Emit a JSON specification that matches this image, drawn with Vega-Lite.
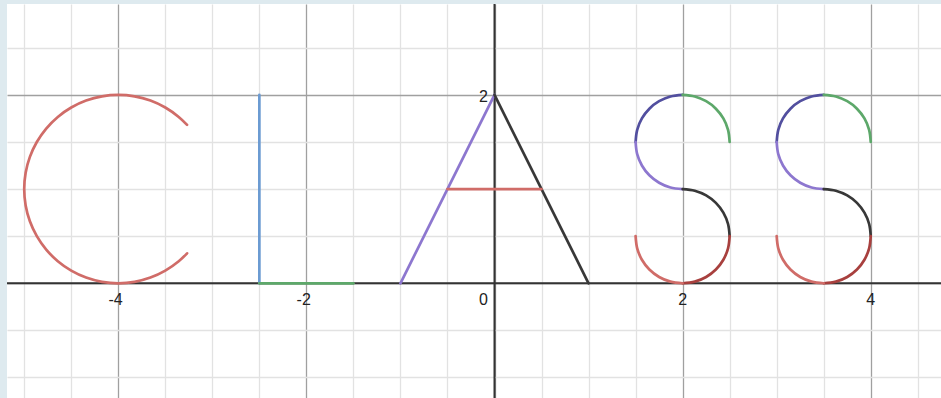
{
  "$schema": "https://vega.github.io/schema/vega-lite/v6.json",
  "width": 934,
  "height": 394,
  "autosize": {"type": "none"},
  "padding": {"left": 7, "top": 4, "right": 0, "bottom": 0},
  "background": "#deeaef",
  "config": {"view": {"fill": "white", "stroke": null}},
  "datasets": {
    "curves": [
      {"s":"C","c":"red","o":0,"x":-3.2686,"y":1.682},
      {"s":"C","c":"red","o":1,"x":-3.3572,"y":1.766},
      {"s":"C","c":"red","o":2,"x":-3.5,"y":1.866},
      {"s":"C","c":"red","o":3,"x":-3.658,"y":1.9397},
      {"s":"C","c":"red","o":4,"x":-3.8264,"y":1.9848},
      {"s":"C","c":"red","o":5,"x":-4,"y":2},
      {"s":"C","c":"red","o":6,"x":-4.1736,"y":1.9848},
      {"s":"C","c":"red","o":7,"x":-4.342,"y":1.9397},
      {"s":"C","c":"red","o":8,"x":-4.5,"y":1.866},
      {"s":"C","c":"red","o":9,"x":-4.6428,"y":1.766},
      {"s":"C","c":"red","o":10,"x":-4.766,"y":1.6428},
      {"s":"C","c":"red","o":11,"x":-4.866,"y":1.5},
      {"s":"C","c":"red","o":12,"x":-4.9397,"y":1.342},
      {"s":"C","c":"red","o":13,"x":-4.9848,"y":1.1736},
      {"s":"C","c":"red","o":14,"x":-5,"y":1},
      {"s":"C","c":"red","o":15,"x":-4.9848,"y":0.8264},
      {"s":"C","c":"red","o":16,"x":-4.9397,"y":0.658},
      {"s":"C","c":"red","o":17,"x":-4.866,"y":0.5},
      {"s":"C","c":"red","o":18,"x":-4.766,"y":0.3572},
      {"s":"C","c":"red","o":19,"x":-4.6428,"y":0.234},
      {"s":"C","c":"red","o":20,"x":-4.5,"y":0.134},
      {"s":"C","c":"red","o":21,"x":-4.342,"y":0.0603},
      {"s":"C","c":"red","o":22,"x":-4.1736,"y":0.0152},
      {"s":"C","c":"red","o":23,"x":-4,"y":0},
      {"s":"C","c":"red","o":24,"x":-3.8264,"y":0.0152},
      {"s":"C","c":"red","o":25,"x":-3.658,"y":0.0603},
      {"s":"C","c":"red","o":26,"x":-3.5,"y":0.134},
      {"s":"C","c":"red","o":27,"x":-3.3572,"y":0.234},
      {"s":"C","c":"red","o":28,"x":-3.2686,"y":0.318},
      {"s":"Lv","c":"blue","o":0,"x":-2.5,"y":0},
      {"s":"Lv","c":"blue","o":1,"x":-2.5,"y":2},
      {"s":"Lh","c":"green","o":0,"x":-2.5,"y":0},
      {"s":"Lh","c":"green","o":1,"x":-1.5,"y":0},
      {"s":"Aleft","c":"purple","o":0,"x":-1,"y":0},
      {"s":"Aleft","c":"purple","o":1,"x":0,"y":2},
      {"s":"Aright","c":"black","o":0,"x":0,"y":2},
      {"s":"Aright","c":"black","o":1,"x":1,"y":0},
      {"s":"Abar","c":"red","o":0,"x":-0.5,"y":1},
      {"s":"Abar","c":"red","o":1,"x":0.5,"y":1},

      {"s":"S1a","c":"navy","o":0,"x":2,"y":2},
      {"s":"S1a","c":"navy","o":1,"x":1.8706,"y":1.983},
      {"s":"S1a","c":"navy","o":2,"x":1.75,"y":1.933},
      {"s":"S1a","c":"navy","o":3,"x":1.6464,"y":1.8536},
      {"s":"S1a","c":"navy","o":4,"x":1.567,"y":1.75},
      {"s":"S1a","c":"navy","o":5,"x":1.517,"y":1.6294},
      {"s":"S1a","c":"navy","o":6,"x":1.5,"y":1.5},
      {"s":"S1b","c":"purple","o":0,"x":1.5,"y":1.5},
      {"s":"S1b","c":"purple","o":1,"x":1.517,"y":1.3706},
      {"s":"S1b","c":"purple","o":2,"x":1.567,"y":1.25},
      {"s":"S1b","c":"purple","o":3,"x":1.6464,"y":1.1464},
      {"s":"S1b","c":"purple","o":4,"x":1.75,"y":1.067},
      {"s":"S1b","c":"purple","o":5,"x":1.8706,"y":1.017},
      {"s":"S1b","c":"purple","o":6,"x":2,"y":1},
      {"s":"S1c","c":"green","o":0,"x":2,"y":2},
      {"s":"S1c","c":"green","o":1,"x":2.1294,"y":1.983},
      {"s":"S1c","c":"green","o":2,"x":2.25,"y":1.933},
      {"s":"S1c","c":"green","o":3,"x":2.3536,"y":1.8536},
      {"s":"S1c","c":"green","o":4,"x":2.433,"y":1.75},
      {"s":"S1c","c":"green","o":5,"x":2.483,"y":1.6294},
      {"s":"S1c","c":"green","o":6,"x":2.5,"y":1.5},
      {"s":"S1d","c":"black","o":0,"x":2,"y":1},
      {"s":"S1d","c":"black","o":1,"x":2.1294,"y":0.983},
      {"s":"S1d","c":"black","o":2,"x":2.25,"y":0.933},
      {"s":"S1d","c":"black","o":3,"x":2.3536,"y":0.8536},
      {"s":"S1d","c":"black","o":4,"x":2.433,"y":0.75},
      {"s":"S1d","c":"black","o":5,"x":2.483,"y":0.6294},
      {"s":"S1d","c":"black","o":6,"x":2.5,"y":0.5},
      {"s":"S1e","c":"maroon","o":0,"x":2.5,"y":0.5},
      {"s":"S1e","c":"maroon","o":1,"x":2.483,"y":0.3706},
      {"s":"S1e","c":"maroon","o":2,"x":2.433,"y":0.25},
      {"s":"S1e","c":"maroon","o":3,"x":2.3536,"y":0.1464},
      {"s":"S1e","c":"maroon","o":4,"x":2.25,"y":0.067},
      {"s":"S1e","c":"maroon","o":5,"x":2.1294,"y":0.017},
      {"s":"S1e","c":"maroon","o":6,"x":2,"y":0},
      {"s":"S1f","c":"red","o":0,"x":2,"y":0},
      {"s":"S1f","c":"red","o":1,"x":1.8706,"y":0.017},
      {"s":"S1f","c":"red","o":2,"x":1.75,"y":0.067},
      {"s":"S1f","c":"red","o":3,"x":1.6464,"y":0.1464},
      {"s":"S1f","c":"red","o":4,"x":1.567,"y":0.25},
      {"s":"S1f","c":"red","o":5,"x":1.517,"y":0.3706},
      {"s":"S1f","c":"red","o":6,"x":1.5,"y":0.5},

      {"s":"S2a","c":"navy","o":0,"x":3.5,"y":2},
      {"s":"S2a","c":"navy","o":1,"x":3.3706,"y":1.983},
      {"s":"S2a","c":"navy","o":2,"x":3.25,"y":1.933},
      {"s":"S2a","c":"navy","o":3,"x":3.1464,"y":1.8536},
      {"s":"S2a","c":"navy","o":4,"x":3.067,"y":1.75},
      {"s":"S2a","c":"navy","o":5,"x":3.017,"y":1.6294},
      {"s":"S2a","c":"navy","o":6,"x":3.0,"y":1.5},
      {"s":"S2b","c":"purple","o":0,"x":3.0,"y":1.5},
      {"s":"S2b","c":"purple","o":1,"x":3.017,"y":1.3706},
      {"s":"S2b","c":"purple","o":2,"x":3.067,"y":1.25},
      {"s":"S2b","c":"purple","o":3,"x":3.1464,"y":1.1464},
      {"s":"S2b","c":"purple","o":4,"x":3.25,"y":1.067},
      {"s":"S2b","c":"purple","o":5,"x":3.3706,"y":1.017},
      {"s":"S2b","c":"purple","o":6,"x":3.5,"y":1},
      {"s":"S2c","c":"green","o":0,"x":3.5,"y":2},
      {"s":"S2c","c":"green","o":1,"x":3.6294,"y":1.983},
      {"s":"S2c","c":"green","o":2,"x":3.75,"y":1.933},
      {"s":"S2c","c":"green","o":3,"x":3.8536,"y":1.8536},
      {"s":"S2c","c":"green","o":4,"x":3.933,"y":1.75},
      {"s":"S2c","c":"green","o":5,"x":3.983,"y":1.6294},
      {"s":"S2c","c":"green","o":6,"x":4.0,"y":1.5},
      {"s":"S2d","c":"black","o":0,"x":3.5,"y":1},
      {"s":"S2d","c":"black","o":1,"x":3.6294,"y":0.983},
      {"s":"S2d","c":"black","o":2,"x":3.75,"y":0.933},
      {"s":"S2d","c":"black","o":3,"x":3.8536,"y":0.8536},
      {"s":"S2d","c":"black","o":4,"x":3.933,"y":0.75},
      {"s":"S2d","c":"black","o":5,"x":3.983,"y":0.6294},
      {"s":"S2d","c":"black","o":6,"x":4.0,"y":0.5},
      {"s":"S2e","c":"maroon","o":0,"x":4.0,"y":0.5},
      {"s":"S2e","c":"maroon","o":1,"x":3.983,"y":0.3706},
      {"s":"S2e","c":"maroon","o":2,"x":3.933,"y":0.25},
      {"s":"S2e","c":"maroon","o":3,"x":3.8536,"y":0.1464},
      {"s":"S2e","c":"maroon","o":4,"x":3.75,"y":0.067},
      {"s":"S2e","c":"maroon","o":5,"x":3.6294,"y":0.017},
      {"s":"S2e","c":"maroon","o":6,"x":3.5,"y":0},
      {"s":"S2f","c":"red","o":0,"x":3.5,"y":0},
      {"s":"S2f","c":"red","o":1,"x":3.3706,"y":0.017},
      {"s":"S2f","c":"red","o":2,"x":3.25,"y":0.067},
      {"s":"S2f","c":"red","o":3,"x":3.1464,"y":0.1464},
      {"s":"S2f","c":"red","o":4,"x":3.067,"y":0.25},
      {"s":"S2f","c":"red","o":5,"x":3.017,"y":0.3706},
      {"s":"S2f","c":"red","o":6,"x":3.0,"y":0.5}
    ],
    "xlabels": [
      {"t": -4, "lab": "-4"},
      {"t": -2, "lab": "-2"},
      {"t": 2, "lab": "2"},
      {"t": 4, "lab": "4"}
    ],
    "origin": [{"v": 0}],
    "ylabels": [{"t": 2, "lab": "2"}]
  },
  "layer": [
    {
      "data": {"name": "origin"},
      "mark": {"type": "rule", "color": "#333333", "strokeWidth": 2},
      "encoding": {
        "x": {"field": "v", "type": "quantitative",
          "scale": {"domain": [-5.183, 4.747], "nice": false, "zero": false},
          "axis": {"values": [-5,-4.5,-4,-3.5,-3,-2.5,-2,-1.5,-1,-0.5,0,0.5,1,1.5,2,2.5,3,3.5,4,4.5],
            "grid": true, "labels": false, "ticks": false, "domain": false, "title": null,
            "gridColor": {"condition": {"test": "datum.value % 2 === 0", "value": "#a0a0a0"}, "value": "#e2e2e2"},
            "gridWidth": 1.3}
        }
      }
    },
    {
      "data": {"name": "origin"},
      "mark": {"type": "rule", "color": "#333333", "strokeWidth": 2},
      "encoding": {
        "y": {"field": "v", "type": "quantitative",
          "scale": {"domain": [-1.218, 2.965], "nice": false, "zero": false},
          "axis": {"values": [-1,-0.5,0,0.5,1,1.5,2,2.5],
            "grid": true, "labels": false, "ticks": false, "domain": false, "title": null,
            "gridColor": {"condition": {"test": "datum.value % 2 === 0", "value": "#a0a0a0"}, "value": "#e2e2e2"},
            "gridWidth": 1.3}
        }
      }
    },
    {
      "data": {"name": "curves"},
      "mark": {"type": "line", "strokeWidth": 2.7, "strokeCap": "round", "strokeJoin": "round", "interpolate": "catmull-rom"},
      "encoding": {
        "x": {"field": "x", "type": "quantitative"},
        "y": {"field": "y", "type": "quantitative"},
        "detail": {"field": "s", "type": "nominal"},
        "order": {"field": "o", "type": "quantitative"},
        "color": {"field": "c", "type": "nominal", "legend": null,
          "scale": {"domain": ["red","blue","green","purple","black","maroon","navy"],
                    "range": ["#d06c68","#6b9bd2","#5da86a","#8d77cf","#383838","#a8403e","#524f9f"]}}
      }
    },
    {
      "data": {"name": "xlabels"},
      "transform": [{"filter": "datum.t < 0"}],
      "mark": {"type": "text", "font": "Liberation Sans", "fontSize": 16, "color": "#222222", "align": "center", "baseline": "alphabetic", "dy": 22, "dx": -2.7},
      "encoding": {
        "x": {"field": "t", "type": "quantitative"},
        "y": {"datum": 0, "type": "quantitative"},
        "text": {"field": "lab"}
      }
    },
    {
      "data": {"name": "xlabels"},
      "transform": [{"filter": "datum.t > 0"}],
      "mark": {"type": "text", "font": "Liberation Sans", "fontSize": 16, "color": "#222222", "align": "center", "baseline": "alphabetic", "dy": 22},
      "encoding": {
        "x": {"field": "t", "type": "quantitative"},
        "y": {"datum": 0, "type": "quantitative"},
        "text": {"field": "lab"}
      }
    },
    {
      "data": {"name": "origin"},
      "mark": {"type": "text", "font": "Liberation Sans", "fontSize": 16, "color": "#222222", "align": "right", "baseline": "alphabetic", "dy": 22, "dx": -6.5, "text": "0"},
      "encoding": {
        "x": {"field": "v", "type": "quantitative"},
        "y": {"field": "v", "type": "quantitative"}
      }
    },
    {
      "data": {"name": "ylabels"},
      "mark": {"type": "text", "font": "Liberation Sans", "fontSize": 16, "color": "#222222", "align": "right", "baseline": "alphabetic", "dy": 7, "dx": -6.5},
      "encoding": {
        "x": {"datum": 0, "type": "quantitative"},
        "y": {"field": "t", "type": "quantitative"},
        "text": {"field": "lab"}
      }
    }
  ]
}
